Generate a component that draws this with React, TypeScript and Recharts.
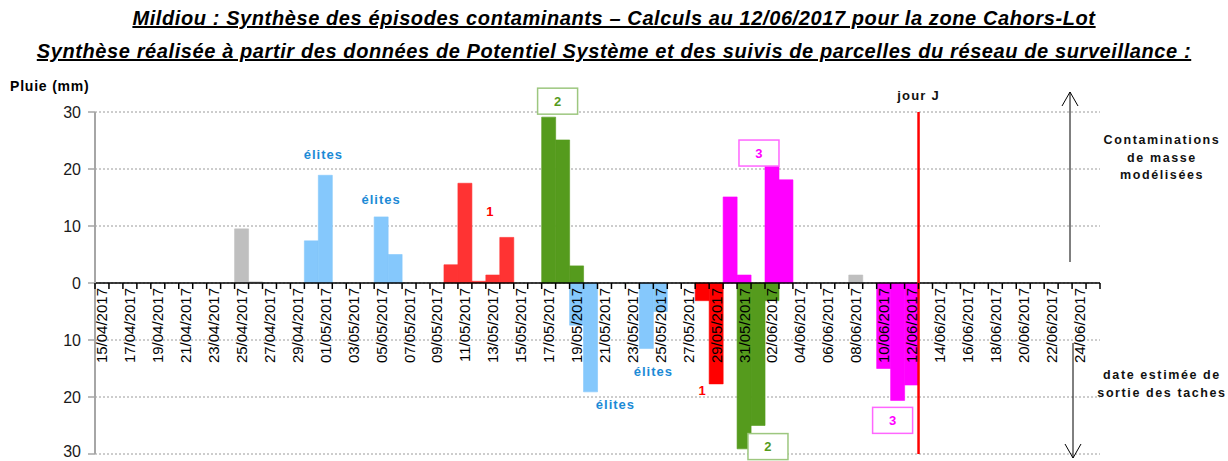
import React from "react";
import {
  Bar,
  BarChart,
  CartesianGrid,
  ReferenceDot,
  ReferenceLine,
  XAxis,
  YAxis,
} from "recharts";

const FONT = "'Liberation Sans', Arial, sans-serif";

// one category per day, 15/04 -> 25/06
const days = [
  "15/04/2017", "16/04/2017", "17/04/2017", "18/04/2017", "19/04/2017", "20/04/2017",
  "21/04/2017", "22/04/2017", "23/04/2017", "24/04/2017", "25/04/2017", "26/04/2017",
  "27/04/2017", "28/04/2017", "29/04/2017", "30/04/2017", "01/05/2017", "02/05/2017",
  "03/05/2017", "04/05/2017", "05/05/2017", "06/05/2017", "07/05/2017", "08/05/2017",
  "09/05/2017", "10/05/2017", "11/05/2017", "12/05/2017", "13/05/2017", "14/05/2017",
  "15/05/2017", "16/05/2017", "17/05/2017", "18/05/2017", "19/05/2017", "20/05/2017",
  "21/05/2017", "22/05/2017", "23/05/2017", "24/05/2017", "25/05/2017", "26/05/2017",
  "27/05/2017", "28/05/2017", "29/05/2017", "30/05/2017", "31/05/2017", "01/06/2017",
  "02/06/2017", "03/06/2017", "04/06/2017", "05/06/2017", "06/06/2017", "07/06/2017",
  "08/06/2017", "09/06/2017", "10/06/2017", "11/06/2017", "12/06/2017", "13/06/2017",
  "14/06/2017", "15/06/2017", "16/06/2017", "17/06/2017", "18/06/2017", "19/06/2017",
  "20/06/2017", "21/06/2017", "22/06/2017", "23/06/2017", "24/06/2017", "25/06/2017",
];

// rain (mm), above zero
const rainGrey: [string, number][] = [["25/04/2017", 9.5], ["26/04/2017", 0.2], ["08/06/2017", 1.4]];
const rainBlue: [string, number][] = [["30/04/2017", 7.4], ["01/05/2017", 18.9], ["05/05/2017", 11.6], ["06/05/2017", 5.0]];
const rainRed: [string, number][] = [["10/05/2017", 3.2], ["11/05/2017", 17.5], ["12/05/2017", 0.3], ["13/05/2017", 1.4], ["14/05/2017", 8.0]];
const rainGreen: [string, number][] = [["17/05/2017", 29.1], ["18/05/2017", 25.1], ["19/05/2017", 3.0]];
const rainMagenta: [string, number][] = [["30/05/2017", 15.1], ["31/05/2017", 1.4], ["02/06/2017", 20.5], ["03/06/2017", 18.1]];

// estimated exit of spots, drawn below zero
const exitBlue: [string, number][] = [["19/05/2017", -7.4], ["20/05/2017", -19.1], ["24/05/2017", -11.5], ["25/05/2017", -5.0]];
const exitRed: [string, number][] = [["28/05/2017", -3.1], ["29/05/2017", -17.7]];
const exitGreen: [string, number][] = [["31/05/2017", -29.1], ["01/06/2017", -25.0], ["02/06/2017", -3.1]];
const exitMagenta: [string, number][] = [["10/06/2017", -15.0], ["11/06/2017", -20.6], ["12/06/2017", -17.9]];

const yTicks = [-30, -20, -10, 0, 10, 20, 30];

const series = [
  { key: "rainGrey", rows: rainGrey, color: "#bfbfbf" },
  { key: "rainBlue", rows: rainBlue, color: "#85c8fc" },
  { key: "rainRed", rows: rainRed, color: "#ff3333" },
  { key: "rainGreen", rows: rainGreen, color: "#559b1d" },
  { key: "rainMagenta", rows: rainMagenta, color: "#ff00ff" },
  { key: "exitBlue", rows: exitBlue, color: "#85c8fc" },
  { key: "exitRed", rows: exitRed, color: "#ff0000" },
  { key: "exitGreen", rows: exitGreen, color: "#559b1d" },
  { key: "exitMagenta", rows: exitMagenta, color: "#ff00ff" },
];

const data = days.map((date) => {
  const row: Record<string, string | number | null> = { date };
  series.forEach((s) => {
    const hit = s.rows.find((r) => r[0] === date);
    row[s.key] = hit ? hit[1] : null;
  });
  return row;
});

const W = 1228;
const H = 461;
const M = { top: 112, right: 128, bottom: 6, left: 0 };
const X_H = 1;
const Y_W = 95;
const PLOT_H = H - M.top - M.bottom - X_H;
const PLOT_W = W - M.left - M.right - Y_W;
const BAND = PLOT_W / days.length;
const ZERO_Y = M.top + PLOT_H / 2;

function DayTick(props: any) {
  const { x, index } = props;
  const last = index === days.length - 1;
  return (
    <g>
      <line x1={x - BAND / 2} x2={x - BAND / 2} y1={ZERO_Y} y2={ZERO_Y + 6} stroke="#000" strokeWidth={1.5} />
      {last && <line x1={x + BAND / 2} x2={x + BAND / 2} y1={ZERO_Y} y2={ZERO_Y + 6} stroke="#000" strokeWidth={1.5} />}
      {index % 2 === 0 && (
        <text
          x={x}
          y={ZERO_Y + 5}
          transform={`rotate(-90 ${x} ${ZERO_Y + 5})`}
          textAnchor="end"
          dominantBaseline="central"
          fontSize={15}
          fontFamily={FONT}
          fill="#000"
        >
          {days[index]}
        </text>
      )}
    </g>
  );
}

function YTick(props: any) {
  const { x, y, payload } = props;
  const v = Number(payload.value);
  // bottom label sits on the picture edge, nudge it up a little
  const dy = v === -30 ? -3 : 0;
  return (
    <text
      x={x}
      y={y + dy}
      textAnchor="end"
      dominantBaseline="central"
      fontSize={16}
      fontFamily={FONT}
      fill="#1a1a1a"
    >
      {String(Math.abs(v))}
    </text>
  );
}

function note(text: string, color: string, opts: { box?: string; dx?: number; size?: number } = {}) {
  return (p: any) => {
    const cx = p.cx + (opts.dx || 0);
    const cy = p.cy;
    return (
      <g>
        {opts.box && (
          <rect x={cx - 20} y={cy - 13} width={40} height={26} fill="#fff" stroke={opts.box} strokeWidth={1.5} />
        )}
        <text
          x={cx}
          y={cy}
          textAnchor="middle"
          dominantBaseline="central"
          fontFamily={FONT}
          fontWeight="bold"
          fontSize={opts.size || 13}
          letterSpacing={text.length > 1 ? 1 : 0}
          fill={color}
        >
          {text}
        </text>
      </g>
    );
  };
}

const ELITE = "#1b8ad6";

export default function App() {
  return (
    <div style={{ position: "absolute", left: 0, top: 0, width: W, height: H, background: "#fff", fontFamily: FONT }}>
      <div
        style={{
          position: "absolute",
          left: 0,
          top: 2,
          width: W,
          textAlign: "center",
          fontWeight: "bold",
          fontStyle: "italic",
          textDecoration: "underline",
          fontSize: 20,
          letterSpacing: 0.6,
          lineHeight: "33px",
          color: "#000",
        }}
      >
        <div>Mildiou : Synthèse des épisodes contaminants – Calculs au 12/06/2017 pour la zone Cahors-Lot</div>
        <div>Synthèse réalisée à partir des données de Potentiel Système et des suivis de parcelles du réseau de surveillance :</div>
      </div>
      <div style={{ position: "absolute", left: 10, top: 78, fontSize: 14, letterSpacing: 0.8, fontWeight: "bold", color: "#000" }}>
        Pluie (mm)
      </div>

      <BarChart
        width={W}
        height={H}
        data={data}
        margin={M}
        barCategoryGap={0}
        barGap={0}
        stackOffset="sign"
        style={{ position: "absolute", left: 0, top: 0 }}
      >
        <CartesianGrid vertical={false} stroke="#9a9a9a" strokeDasharray="2 2" />
        <XAxis
          dataKey="date"
          interval={0}
          height={X_H}
          axisLine={false}
          tickLine={false}
          tick={DayTick}
        />
        <YAxis
          width={Y_W}
          domain={[-30, 30]}
          ticks={yTicks}
          interval={0}
          axisLine={{ stroke: "#a6a6a6", strokeWidth: 2 }}
          tickLine={{ stroke: "#a6a6a6", strokeWidth: 1.5 }}
          tickSize={7}
          tickMargin={7}
          tick={YTick}
        />
        {series.map((s) => (
          <Bar
            key={s.key}
            dataKey={s.key}
            stackId="a"
            fill={s.color}
            stroke={s.color}
            strokeWidth={0.6}
            isAnimationActive={false}
          />
        ))}
        <ReferenceLine y={0} stroke="#000" strokeWidth={1.5} />
        <ReferenceLine
          x="13/06/2017"
          position="start"
          stroke="#ff0000"
          strokeWidth={2.5}
          label={{ value: "jour J", position: "top", offset: 12, fontSize: 13, letterSpacing: 1.2, fontWeight: "bold", fill: "#111", fontFamily: FONT }}
        />

        <ReferenceDot x="01/05/2017" y={22.6} r={0} ifOverflow="visible" shape={note("élites", ELITE, { dx: -2 })} />
        <ReferenceDot x="05/05/2017" y={14.6} r={0} ifOverflow="visible" shape={note("élites", ELITE)} />
        <ReferenceDot x="13/05/2017" y={12.5} r={0} ifOverflow="visible" shape={note("1", "#ff0000", { dx: -3 })} />
        <ReferenceDot x="18/05/2017" y={31.9} r={0} ifOverflow="visible" shape={note("2", "#559b1d", { box: "#9dc77f", dx: -5 })} />
        <ReferenceDot x="02/06/2017" y={22.8} r={0} ifOverflow="visible" shape={note("3", "#ff00ff", { box: "#ff66ff", dx: -13 })} />
        <ReferenceDot x="22/05/2017" y={-21.4} r={0} ifOverflow="visible" shape={note("élites", ELITE, { dx: -3 })} />
        <ReferenceDot x="25/05/2017" y={-15.6} r={0} ifOverflow="visible" shape={note("élites", ELITE, { dx: -7 })} />
        <ReferenceDot x="28/05/2017" y={-18.8} r={0} ifOverflow="visible" shape={note("1", "#ff0000")} />
        <ReferenceDot x="02/06/2017" y={-28.7} r={0} ifOverflow="visible" shape={note("2", "#559b1d", { box: "#9dc77f", dx: -4 })} />
        <ReferenceDot x="11/06/2017" y={-24.1} r={0} ifOverflow="visible" shape={note("3", "#ff00ff", { box: "#ff66ff", dx: -5 })} />
      </BarChart>

      <svg width={W} height={H} style={{ position: "absolute", left: 0, top: 0, pointerEvents: "none" }}>
        <g stroke="#000" strokeWidth={1} fill="none">
          <line x1={1070} y1={262} x2={1070} y2={92} />
          <polyline points="1062,106 1070,92 1078,106" />
          <line x1={1073} y1={343} x2={1073} y2={458} />
          <polyline points="1065,444 1073,458 1081,444" />
        </g>
      </svg>
      <div
        style={{
          position: "absolute",
          left: 1084,
          top: 132,
          width: 156,
          textAlign: "center",
          fontSize: 12.5,
          fontWeight: "bold",
          letterSpacing: 1.6,
          lineHeight: "17.5px",
          color: "#111",
        }}
      >
        Contaminations
        <br />
        de masse
        <br />
        modélisées
      </div>
      <div
        style={{
          position: "absolute",
          left: 1084,
          top: 366,
          width: 156,
          textAlign: "center",
          fontSize: 12.5,
          fontWeight: "bold",
          letterSpacing: 1.6,
          lineHeight: "18px",
          color: "#111",
        }}
      >
        date estimée de
        <br />
        sortie des taches
      </div>
    </div>
  );
}
